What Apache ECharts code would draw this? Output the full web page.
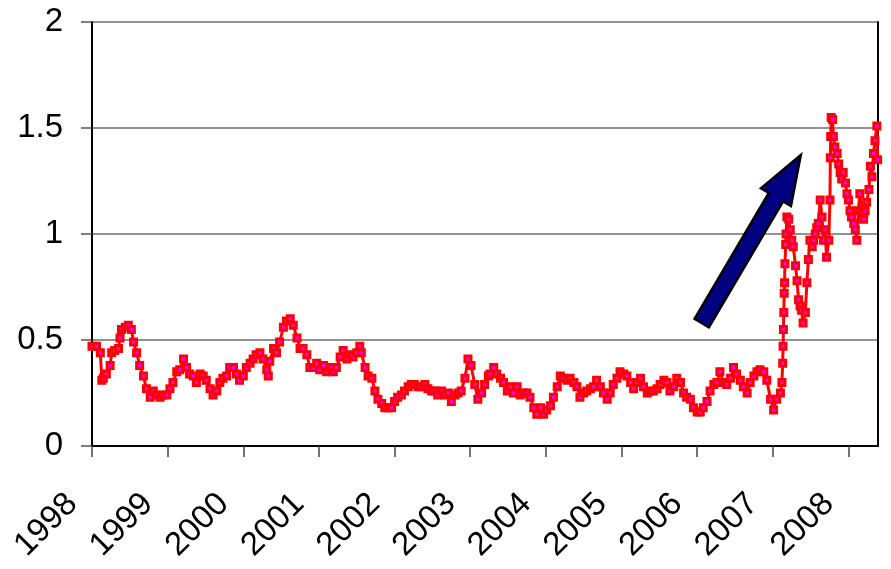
<!DOCTYPE html>
<html>
<head>
<meta charset="utf-8">
<title>Spread 1998–2008</title>
<script src="https://cdn.jsdelivr.net/npm/echarts/dist/echarts.min.js"></script>
<style>
  html, body { margin: 0; padding: 0; background: #ffffff; }
  #chart { width: 891px; height: 569px; }
</style>
</head>
<body>
<div id="chart"></div>
<script>
// Observations as [decimal year, value]
const early = [
  [1998.00,0.47],[1998.06,0.47],[1998.11,0.44],[1998.13,0.31],[1998.15,0.32],[1998.19,0.34],[1998.24,0.38],
  [1998.26,0.44],[1998.30,0.45],[1998.35,0.46],[1998.37,0.51],[1998.39,0.55],[1998.44,0.56],[1998.48,0.57],
  [1998.52,0.55],[1998.55,0.49],[1998.59,0.44],[1998.63,0.38],[1998.68,0.33],[1998.72,0.27],[1998.77,0.23],
  [1998.81,0.26],[1998.85,0.24],[1998.90,0.23],[1998.94,0.24],[1998.99,0.24],[1999.03,0.27],[1999.07,0.30],
  [1999.12,0.35],[1999.16,0.36],[1999.21,0.41],[1999.25,0.37],[1999.29,0.34],[1999.34,0.33],[1999.38,0.30],
  [1999.43,0.34],[1999.47,0.33],[1999.51,0.31],[1999.56,0.27],[1999.60,0.24],[1999.65,0.26],[1999.69,0.30],
  [1999.73,0.32],[1999.78,0.33],[1999.82,0.37],[1999.87,0.37],[1999.91,0.34],[1999.95,0.31],[2000.00,0.33],
  [2000.04,0.37],[2000.09,0.39],[2000.13,0.41],[2000.17,0.43],[2000.22,0.44],[2000.26,0.41],[2000.31,0.36],
  [2000.33,0.33],[2000.35,0.40],[2000.40,0.46],[2000.44,0.44],[2000.48,0.49],[2000.53,0.56],[2000.57,0.59],
  [2000.62,0.60],[2000.66,0.57],[2000.71,0.51],[2000.75,0.46],[2000.79,0.46],[2000.84,0.43],[2000.88,0.37],
  [2000.93,0.37],[2000.97,0.39],[2001.01,0.36],[2001.06,0.38],[2001.10,0.35],[2001.15,0.37],[2001.19,0.35],
  [2001.23,0.37],[2001.28,0.42],[2001.32,0.45],[2001.37,0.41],[2001.41,0.43],[2001.45,0.42],[2001.50,0.44],
  [2001.54,0.47],[2001.56,0.44],[2001.61,0.37],[2001.65,0.33],[2001.70,0.32],[2001.74,0.26],[2001.78,0.22],
  [2001.83,0.20],[2001.87,0.18],[2001.92,0.18],[2001.96,0.18],[2002.00,0.21],[2002.04,0.23],[2002.09,0.24],
  [2002.13,0.26],[2002.18,0.28],[2002.22,0.29],[2002.26,0.29],[2002.31,0.28],[2002.35,0.28],[2002.40,0.29],
  [2002.44,0.27],[2002.49,0.26],[2002.53,0.26],[2002.57,0.24],[2002.62,0.26],[2002.66,0.24],[2002.71,0.25],
  [2002.75,0.21],[2002.80,0.24],[2002.84,0.25],[2002.88,0.26],[2002.93,0.32],[2002.97,0.41],[2003.01,0.38],
  [2003.06,0.29],[2003.10,0.22],[2003.15,0.25],[2003.19,0.29],[2003.24,0.33]
];

const middle = [
  [2003.26,0.34],[2003.31,0.37],[2003.35,0.34],[2003.40,0.32],[2003.44,0.30],[2003.49,0.26],[2003.53,0.28],
  [2003.57,0.25],[2003.62,0.28],[2003.66,0.24],[2003.71,0.25],[2003.75,0.25],[2003.79,0.23],[2003.84,0.18],
  [2003.88,0.15],[2003.93,0.18],[2003.97,0.15],[2004.01,0.17],[2004.06,0.19],[2004.10,0.23],[2004.15,0.28],
  [2004.19,0.33],[2004.23,0.32],[2004.28,0.31],[2004.32,0.32],[2004.37,0.30],[2004.41,0.28],[2004.45,0.23],
  [2004.50,0.25],[2004.54,0.26],[2004.59,0.27],[2004.63,0.28],[2004.67,0.31],[2004.72,0.28],[2004.76,0.25],
  [2004.81,0.22],[2004.85,0.25],[2004.89,0.29],[2004.94,0.32],[2004.98,0.35],[2005.03,0.34],[2005.07,0.33],
  [2005.12,0.30],[2005.16,0.27],[2005.20,0.30],[2005.25,0.32],[2005.29,0.28],[2005.34,0.25],[2005.38,0.26],
  [2005.42,0.26],[2005.47,0.27],[2005.51,0.29],[2005.56,0.31],[2005.60,0.30],[2005.64,0.26],[2005.69,0.28],
  [2005.73,0.32],[2005.78,0.30],[2005.82,0.25],[2005.86,0.23],[2005.91,0.22],[2005.95,0.18],[2006.00,0.16],
  [2006.04,0.16],[2006.08,0.18],[2006.13,0.21],[2006.17,0.26],[2006.22,0.29],[2006.26,0.30],[2006.30,0.35],
  [2006.35,0.30],[2006.39,0.29],[2006.44,0.32],[2006.48,0.37],[2006.52,0.34],[2006.57,0.31],[2006.61,0.28],
  [2006.66,0.25],[2006.70,0.30],[2006.75,0.33],[2006.79,0.35],[2006.83,0.36],[2006.88,0.35],[2006.92,0.31],
  [2006.97,0.22],[2007.01,0.17],[2007.05,0.22],[2007.10,0.25]
];

const late = [
  [2007.12,0.30],[2007.13,0.39],[2007.135,0.47],[2007.14,0.55],[2007.145,0.63],[2007.15,0.72],[2007.155,0.77],
  [2007.16,0.86],[2007.17,0.95],[2007.175,1.00],[2007.185,1.08],[2007.21,1.07],[2007.23,1.02],[2007.25,0.97],
  [2007.27,0.94],[2007.30,0.85],[2007.32,0.78],[2007.34,0.69],[2007.36,0.66],[2007.38,0.64],[2007.40,0.58],
  [2007.43,0.63],[2007.45,0.77],[2007.47,0.88],[2007.49,0.97],[2007.52,0.94],[2007.54,0.97],[2007.56,1.00],
  [2007.58,1.03],[2007.60,1.05],[2007.626,1.16],[2007.65,1.08],[2007.67,0.97],[2007.69,1.02],[2007.71,0.89],
  [2007.74,0.97],[2007.755,1.16],[2007.76,1.36],[2007.765,1.46],[2007.771,1.55],[2007.79,1.54],[2007.80,1.46],
  [2007.82,1.41],[2007.85,1.38],[2007.87,1.33],[2007.89,1.29],[2007.91,1.26],[2007.93,1.29],[2007.96,1.24],
  [2007.98,1.19],[2008.00,1.16],[2008.02,1.11],[2008.04,1.08],[2008.07,1.05],[2008.09,1.02],[2008.11,0.97],
  [2008.13,1.11],[2008.15,1.19],[2008.18,1.10],[2008.20,1.07],[2008.22,1.11],[2008.24,1.15],[2008.27,1.21],
  [2008.29,1.32],[2008.31,1.27],[2008.33,1.38],[2008.35,1.44],[2008.375,1.51],[2008.385,1.35]
];

// Axis ticks
const yearTicks = [1998, 1999, 2000, 2001, 2002, 2003, 2004, 2005, 2006, 2007, 2008];
const valueTicks = [0, 0.5, 1, 1.5, 2];
const xRange = [1998, 2008.39];

// Annotation arrow, tail and tip in data units
const arrowTail = [2006.06, 0.58];
const arrowTip = [2007.37, 1.373];

const series = early.concat(middle, late);
const font = "'Liberation Sans', Arial, sans-serif";

const chart = echarts.init(document.getElementById('chart'), null, { renderer: 'canvas' });

chart.setOption({
  animation: false,
  backgroundColor: '#ffffff',
  grid: { left: 92, right: 13, top: 22, bottom: 123 },
  xAxis: {
    type: 'value',
    min: xRange[0],
    max: xRange[1],
    interval: 1,
    axisLine: { show: true, onZero: false, lineStyle: { color: '#000000', width: 2 } },
    axisTick: { show: true, length: 11, customValues: yearTicks, lineStyle: { color: '#444444', width: 1.5 } },
    splitLine: { show: false },
    axisLabel: {
      customValues: yearTicks,
      rotate: 45,
      margin: 33,
      padding: [0, 28, 0, 0],
      fontSize: 33,
      fontFamily: font,
      color: '#000000',
      formatter: v => String(Math.round(v))
    }
  },
  yAxis: [
    {
      type: 'value',
      min: valueTicks[0],
      max: valueTicks[valueTicks.length - 1],
      interval: 0.5,
      axisLine: { show: true, lineStyle: { color: '#000000', width: 2 } },
      axisTick: { show: true, length: 11, lineStyle: { color: '#555555', width: 1.5 } },
      splitLine: { show: true, lineStyle: { color: '#6e6e6e', width: 1.5 } },
      axisLabel: {
        margin: 29,
        fontSize: 33,
        fontFamily: font,
        color: '#000000',
        formatter: v => String(v)
      }
    },
    {
      type: 'value',
      position: 'right',
      min: valueTicks[0],
      max: valueTicks[valueTicks.length - 1],
      interval: 0.5,
      axisLine: { show: true, lineStyle: { color: '#000000', width: 2 } },
      axisTick: { show: false },
      axisLabel: { show: false },
      splitLine: { show: false }
    }
  ],
  series: [{
    type: 'line',
    data: series,
    symbol: 'rect',
    symbolSize: 6,
    showAllSymbol: true,
    lineStyle: { color: '#ff0000', width: 3 },
    itemStyle: { color: '#ff00ff', borderColor: '#ff0000', borderWidth: 3 },
    emphasis: { disabled: true },
    z: 3
  }]
});

// Block arrow built around the tail→tip direction in pixel space
function arrowPoints(tail, tip) {
  const dx = tip[0] - tail[0], dy = tip[1] - tail[1];
  const len = Math.sqrt(dx * dx + dy * dy);
  const ux = dx / len, uy = dy / len;
  const px = -uy, py = ux;
  const shaftHalf = 8.3, headHalf = 17.4, headLen = 49;
  const bx = tip[0] - ux * headLen, by = tip[1] - uy * headLen;
  return [
    [tail[0] + px * shaftHalf, tail[1] + py * shaftHalf],
    [bx + px * shaftHalf, by + py * shaftHalf],
    [bx + px * headHalf, by + py * headHalf],
    [tip[0], tip[1]],
    [bx - px * headHalf, by - py * headHalf],
    [bx - px * shaftHalf, by - py * shaftHalf],
    [tail[0] - px * shaftHalf, tail[1] - py * shaftHalf]
  ];
}

const tailPx = chart.convertToPixel({ gridIndex: 0 }, arrowTail);
const tipPx = chart.convertToPixel({ gridIndex: 0 }, arrowTip);

chart.setOption({
  graphic: [{
    type: 'polygon',
    z: 100,
    shape: { points: arrowPoints(tailPx, tipPx) },
    style: { fill: '#000080', stroke: '#000000', lineWidth: 2.5, lineJoin: 'miter' }
  }]
});
</script>
</body>
</html>
